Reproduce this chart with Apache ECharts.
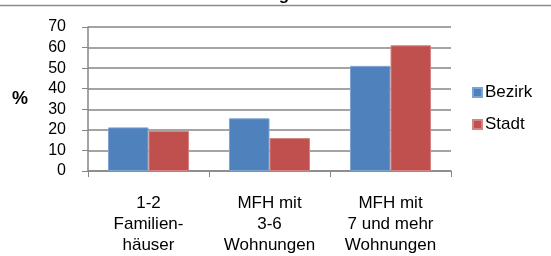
<!DOCTYPE html>
<html>
<head>
<meta charset="utf-8">
<script src="https://cdn.jsdelivr.net/npm/echarts@6/dist/echarts.min.js"></script>
<style>
  html, body { margin: 0; padding: 0; background: #fff; }
  #main { width: 551px; height: 256px; }
</style>
</head>
<body>
<div id="main"></div>
<script>
// Kategorien und Werte
const categories = ['1-2\nFamilien-\nhäuser', 'MFH mit\n3-6\nWohnungen', 'MFH mit\n7 und mehr\nWohnungen'];
const bezirk = [21.2, 25.6, 51.1];
const stadt = [19.5, 16.0, 61.1];
const seriesNames = ['Bezirk', 'Stadt'];
const yTicks = [0, 10, 20, 30, 40, 50, 60, 70];

const font = 'Liberation Sans, Arial, sans-serif';
const chart = echarts.init(document.getElementById('main'));

chart.setOption({
    animation: false,
    title: {
        text: 'Wohnungsarten',
        left: 'center',
        top: -18,
        textStyle: { fontFamily: font, fontSize: 17, fontWeight: 'bold', color: '#000' }
    },
    // Rahmenlinie oben
    graphic: [{
        type: 'line',
        shape: { x1: 0, y1: 5.5, x2: 551, y2: 5.5 },
        style: { stroke: '#8c8c8c', lineWidth: 1.5 }
    }],
    legend: {
        data: seriesNames,
        orient: 'vertical',
        left: 467,
        top: 79,
        itemWidth: 9,
        itemHeight: 9,
        itemGap: 15,
        icon: 'rect',
        textStyle: { fontFamily: font, fontSize: 17, color: '#000', padding: [0, 0, 0, -2] }
    },
    grid: { left: 88, right: 100, top: 27, bottom: 85 },
    xAxis: {
        type: 'category',
        data: categories,
        axisLine: { lineStyle: { color: '#868686', width: 1.5 } },
        axisTick: { show: true, length: 6, lineStyle: { color: '#868686' } },
        axisLabel: { fontFamily: font, fontSize: 17, color: '#000', lineHeight: 21, margin: 22 }
    },
    yAxis: {
        type: 'value',
        min: yTicks[0],
        max: yTicks[yTicks.length - 1],
        interval: 10,
        name: '%',
        nameLocation: 'middle',
        nameRotate: 0,
        nameGap: 60,
        nameTextStyle: { fontFamily: font, fontSize: 18, fontWeight: 'bold', color: '#000', padding: [8, 0, 0, 0] },
        axisLine: { show: true, lineStyle: { color: '#868686', width: 1.5 } },
        axisTick: { show: true, length: 6, lineStyle: { color: '#868686' } },
        axisLabel: { fontFamily: font, fontSize: 16, color: '#000', margin: 22 },
        splitLine: { lineStyle: { color: '#868686', width: 1.5 } }
    },
    series: [
        {
            name: seriesNames[0],
            type: 'bar',
            data: bezirk,
            barGap: '0%',
            barCategoryGap: '33%',
            itemStyle: { color: '#4F81BD', borderColor: '#7fa3d0', borderWidth: 1 }
        },
        {
            name: seriesNames[1],
            type: 'bar',
            data: stadt,
            itemStyle: { color: '#C0504D', borderColor: '#d48482', borderWidth: 1 }
        }
    ]
});
</script>
</body>
</html>
